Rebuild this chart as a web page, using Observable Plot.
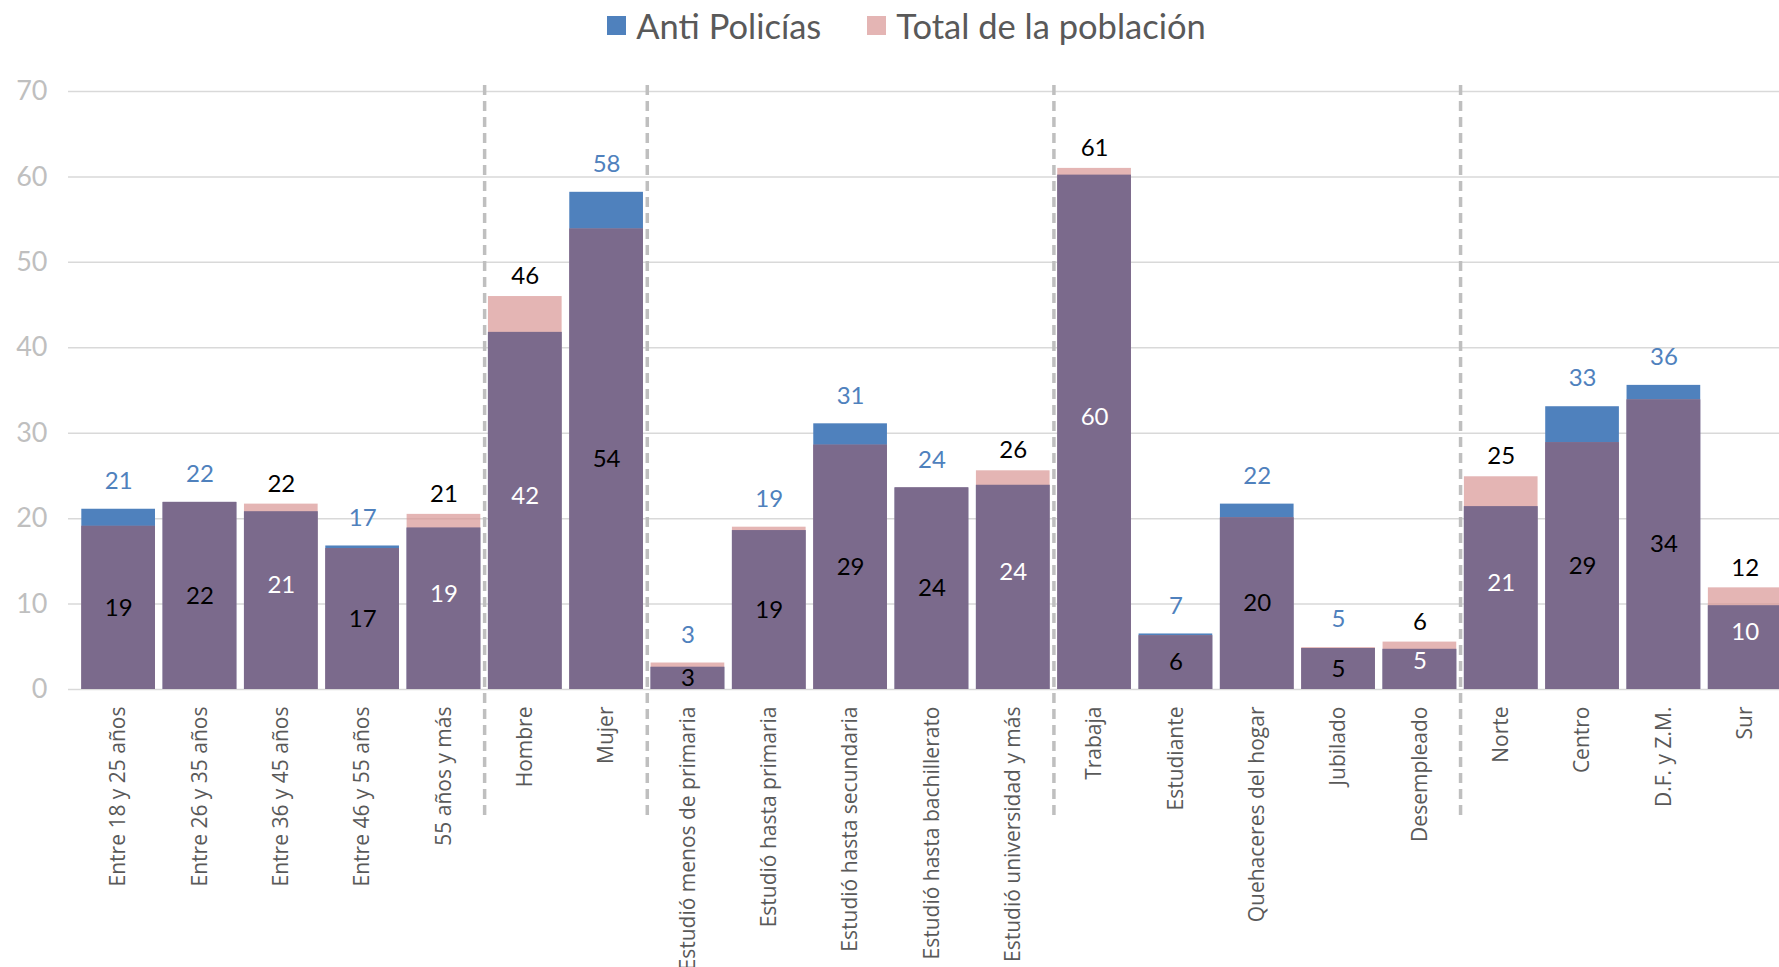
<!DOCTYPE html>
<html><head><meta charset="utf-8">
<script src="https://cdn.jsdelivr.net/npm/d3@7"></script>
<script src="https://cdn.jsdelivr.net/npm/@observablehq/plot@0.6"></script>
<style>
html,body{margin:0;padding:0;background:#fff;overflow:hidden;}
#legend{height:50px;display:flex;justify-content:center;align-items:center;font-family:Lato,sans-serif;font-size:34.5px;color:#595959;padding-left:34px;box-sizing:border-box;width:1779px;}
.item{display:flex;align-items:center;}
.item + .item{margin-left:46px;}
.sw{width:19px;height:19px;margin-right:10px;}
</style></head><body>
<div id="legend"></div>
<div id="chart"></div>
<script>
const categories = [
  "Entre 18 y 25 años","Entre 26 y 35 años","Entre 36 y 45 años","Entre 46 y 55 años","55 años y más",
  "Hombre","Mujer",
  "Estudió menos de primaria","Estudió hasta primaria","Estudió hasta secundaria","Estudió hasta bachillerato","Estudió universidad y más",
  "Trabaja","Estudiante","Quehaceres del hogar","Jubilado","Desempleado",
  "Norte","Centro","D.F. y Z.M.","Sur"
];
const antiPolicias   = [21.1, 21.9, 20.8, 16.8, 18.9, 41.8, 58.2, 2.6, 18.6, 31.1, 23.6, 23.9, 60.2, 6.5, 21.7, 4.8, 4.7, 21.4, 33.1, 35.6, 9.8];
const totalPoblacion = [19.1, 21.9, 21.7, 16.5, 20.5, 46.0, 53.9, 3.1, 19.0, 28.6, 23.6, 25.6, 61.0, 6.3, 20.1, 4.9, 5.55, 24.9, 28.9, 33.9, 11.9];
const groupEnds = ["55 años y más", "Mujer", "Estudió universidad y más", "Desempleado"];
const yTicks = [0, 10, 20, 30, 40, 50, 60, 70];
const seriesNames = ["Anti Policías", "Total de la población"];

const BLUE = "#4f81bd", PINK = "#d99694", PURPLE = "#7b6a8c";

// legend
const legend = document.getElementById("legend");
[[seriesNames[0], BLUE, 1], [seriesNames[1], PINK, 0.7]].forEach(([name, col, op]) => {
  const it = document.createElement("div"); it.className = "item";
  const sw = document.createElement("div"); sw.className = "sw"; sw.style.background = col; sw.style.opacity = op;
  const tx = document.createElement("span"); tx.textContent = name;
  it.appendChild(sw); it.appendChild(tx); legend.appendChild(it);
});

const rows = categories.map((c, i) => {
  const a = antiPolicias[i], t = totalPoblacion[i];
  const ra = Math.round(a), rt = Math.round(t);
  const antiTop = ra >= rt;
  const lo = Math.min(a, t);
  return {
    cat: c, a, t, lo, hi: Math.max(a, t),
    topText: antiTop ? ra : rt, topBlue: antiTop,
    inText: antiTop ? rt : ra, inWhite: !antiTop,
    inY: antiTop ? lo / 2 : lo / 2 + Math.min(1.75, lo * 0.2)
  };
});

const W = 1779, H = 917;
const pad = 0.094;
const r0 = 73.66, r1 = 1789.2;
const step = (r1 - r0) / (categories.length + pad);

const plot = Plot.plot({
  width: W, height: H,
  marginLeft: 68, marginRight: 0, marginTop: 41, marginBottom: 278,
  style: {fontFamily: "Lato, sans-serif", background: "white", overflow: "hidden"},
  x: {domain: categories, range: [r0, r1], padding: pad, round: false, label: null},
  y: {domain: [0, 70], label: null},
  marks: [
    Plot.ruleY(yTicks, {stroke: "#d9d9d9", strokeWidth: 1.5}),
    Plot.barY(rows, {x: "cat", y: "a", fill: BLUE}),
    Plot.barY(rows, {x: "cat", y: "t", fill: PINK, fillOpacity: 0.7}),
    Plot.barY(rows, {x: "cat", y: "lo", fill: PURPLE}),
    Plot.ruleX(groupEnds, {x: d => d, dx: step / 2, stroke: "#bfbfbf", strokeWidth: 3.5, strokeDasharray: "10,6", insetTop: -6, insetBottom: -128}),
    Plot.axisY({ticks: yTicks, tickSize: 0, tickPadding: 21, fontSize: 27, fill: "#bfbfbf", fontFamily: "Lato, sans-serif", label: null}),
    Plot.axisX({tickRotate: -90, tickSize: 0, tickPadding: 17, fontSize: 21, fill: "#595959", fontFamily: "Open Sans, sans-serif", label: null}),
    Plot.text(rows.filter(d => d.topBlue), {x: "cat", y: "hi", text: "topText", fill: BLUE, fontSize: 24, dy: -28}),
    Plot.text(rows.filter(d => !d.topBlue), {x: "cat", y: "hi", text: "topText", fill: "black", fontSize: 24, dy: -20}),
    Plot.text(rows, {x: "cat", y: "inY", text: "inText", fill: d => d.inWhite ? "white" : "black", fontSize: 24})
  ]
});
document.getElementById("chart").appendChild(plot);
</script>
</body></html>
